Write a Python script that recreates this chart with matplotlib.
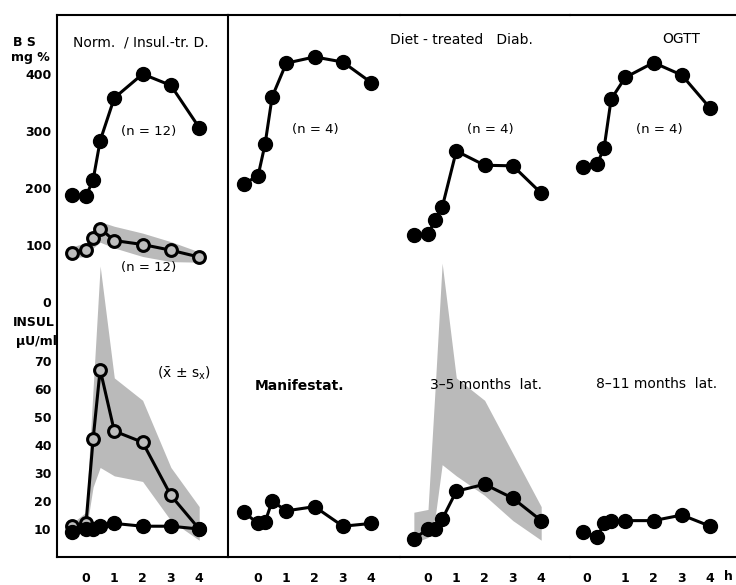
import matplotlib
matplotlib.use("Agg")
import matplotlib.pyplot as plt

# sampling times (h), same for every curve
times = [-0.5, 0, 0.25, 0.5, 1, 2, 3, 4]

# blood sugar, mg %
bs_insul_tr = [188, 186, 214, 283, 358, 400, 380, 306]
bs_normal = [86, 92, 113, 129, 108, 101, 91, 79]
bs_normal_hi = [97, 104, 125, 141, 133, 121, 106, 88]
bs_normal_lo = [78, 80, 95, 105, 95, 80, 71, 70]
bs_manif = [208, 221, 277, 360, 419, 430, 421, 385]
bs_3_5 = [117, 119, 144, 166, 265, 240, 239, 191]
bs_8_11 = [237, 242, 270, 356, 394, 420, 398, 340]

# insulin, microU/ml
ins_normal = [11, 12, 42, 67, 45, 41, 22, 10]
ins_normal_hi = [12, 16, 60, 104, 64, 56, 32, 18]
ins_normal_lo = [10, 9, 25, 32, 29, 27, 13, 6]
ins_insul_tr = [9, 10, 10, 11, 12, 11, 11, 10]
ins_manif = [16, 12, 12.5, 20, 16.5, 18, 11, 12]
ins_3_5 = [6.5, 10, 10, 13.5, 23.5, 26, 21, 13]
ins_3_5_hi = [16, 17, 60, 105, 64, 56, 37, 18]
ins_3_5_lo = [5, 7, 14, 33, 29, 22, 13, 6]
ins_8_11 = [9, 7, 12, 13, 13, 13, 15, 11]

bs_ticks = [0, 100, 200, 300, 400]
ins_ticks = [10, 20, 30, 40, 50, 60, 70]
hour_labels = ["0", "1", "2", "3", "4"]

W, H = 736, 585
fig = plt.figure(figsize=(W / 100, H / 100), dpi=100)
GREY = "#bababa"
hour = 28.3  # px per hour


def make_panel(left, right, origin):
    ax = fig.add_axes([left / W, 1 - 557 / H, (right - left) / W, (557 - 15) / H])
    ax.patch.set_visible(False)
    ax.set_xlim((left - origin) / hour, (right - origin) / hour)
    ax.set_ylim(-447, 503.5)
    axi = ax.twinx()
    axi.set_ylim(0, 193.7)
    for s in axi.spines.values():
        s.set_visible(False)
    for s in ax.spines.values():
        s.set_linewidth(1.5)
    ax.tick_params(length=0, pad=11)
    axi.tick_params(length=0)
    ax.set_yticks([])
    axi.set_yticks([])
    return ax, axi


def filled(ax, y):
    ax.plot(times, y, color="black", lw=2.2, marker="o", ms=10, zorder=3)


def hollow(ax, y):
    ax.plot(times, y, color="black", lw=2.2, marker="o", ms=8.5, mfc="#bdbdbd",
            mec="black", mew=2.2, zorder=3)


ax1, ax1i = make_panel(57, 228, 86)
ax2, ax2i = make_panel(228, 400, 258)
ax3, ax3i = make_panel(400, 570, 428)
ax4, ax4i = make_panel(570, 736, 597)

for ax in (ax2, ax3, ax4):
    ax.spines["left"].set_visible(False)
    ax.spines["right"].set_visible(False)

# left panel: normals / insulin-treated
ax1.fill_between(times, bs_normal_lo, bs_normal_hi, color=GREY, lw=0, zorder=1)
filled(ax1, bs_insul_tr)
hollow(ax1, bs_normal)
ax1i.fill_between(times, ins_normal_lo, ins_normal_hi, color=GREY, lw=0, zorder=1)
hollow(ax1i, ins_normal)
filled(ax1i, ins_insul_tr)

# diet-treated diabetics
filled(ax2, bs_manif)
filled(ax2i, ins_manif)
filled(ax3, bs_3_5)
ax3i.fill_between(times, ins_3_5_lo, ins_3_5_hi, color=GREY, lw=0, zorder=1)
filled(ax3i, ins_3_5)
filled(ax4, bs_8_11)
filled(ax4i, ins_8_11)

# axes labels
ax1.set_yticks(bs_ticks)
ax1.set_yticklabels([str(t) for t in bs_ticks], fontsize=9, fontweight="bold")
ax1i.yaxis.tick_left()
ax1i.set_yticks(ins_ticks)
ax1i.set_yticklabels([str(t) for t in ins_ticks], fontsize=9, fontweight="bold")
ax1.tick_params(axis="y", pad=4)
ax1i.tick_params(axis="y", pad=4)

for ax in (ax1, ax2, ax3):
    ax.set_xticks([0, 1, 2, 3, 4])
    ax.set_xticklabels(hour_labels, fontsize=9, fontweight="bold")
ax4.set_xticks([-0.35, 1, 2, 3, 4])
ax4.set_xticklabels(hour_labels, fontsize=9, fontweight="bold")


def label(x, y, s, ha="center", size=10, **kw):
    fig.text(x / W, 1 - y / H, s, ha=ha, va="center", fontsize=size, **kw)


label(24, 43, "B S", size=9, fontweight="bold")
label(30, 58, "mg %", size=9, fontweight="bold")
label(34, 323, "INSUL", size=9, fontweight="bold")
label(36, 341, "\u00b5U/ml", size=9, fontweight="bold")
label(728, 576, "h", size=9, fontweight="bold")

label(141, 42, "Norm.  / Insul.-tr. D.")
label(461, 40, "Diet - treated   Diab.")
label(681, 39, "OGTT")
label(149, 131, "(n = 12)", size=9.5)
label(149, 268, "(n = 12)", size=9.5)
label(315, 130, "(n = 4)", size=9.5)
label(490, 130, "(n = 4)", size=9.5)
label(659, 129, "(n = 4)", size=9.5)
label(184, 373, r"($\bar{\mathsf{x}}$ " + "\u00b1" + r" s$_{\mathsf{x}}$)")
label(300, 386, "Manifestat.", fontweight="bold")
label(486, 385, "3\u20135 months  lat.")
label(657, 384, "8\u201311 months  lat.")

fig.savefig("out.png", dpi=100)
